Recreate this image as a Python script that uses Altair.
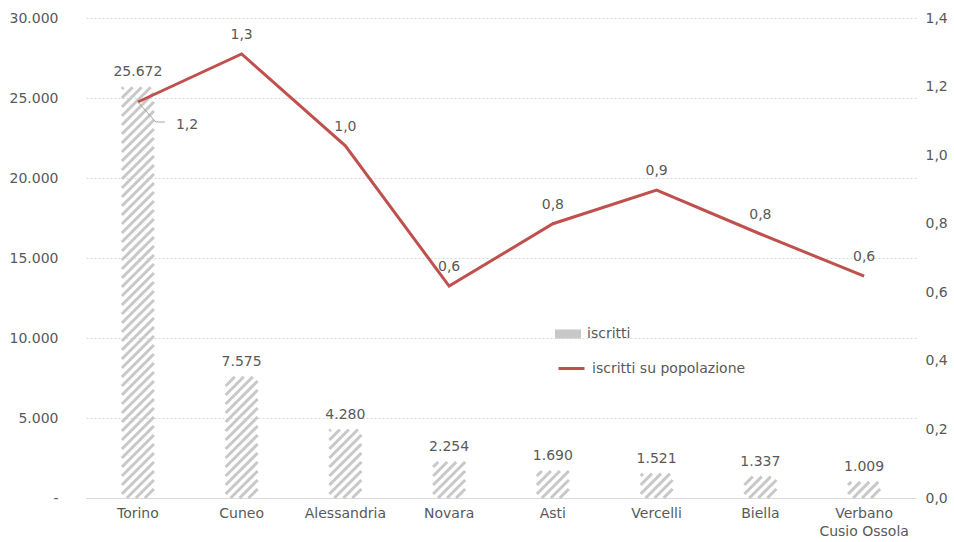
import altair as alt
import pandas as pd

categories = ["Torino", "Cuneo", "Alessandria", "Novara", "Asti", "Vercelli", "Biella", "Verbano Cusio Ossola"]
iscritti = [25672, 7575, 4280, 2254, 1690, 1521, 1337, 1009]
ratio = [1.155, 1.295, 1.027, 0.618, 0.80, 0.898, 0.77, 0.647]
left_ticks = [0, 5000, 10000, 15000, 20000, 25000, 30000]
right_ticks = [0.0, 0.2, 0.4, 0.6, 0.8, 1.0, 1.2, 1.4]

df = pd.DataFrame({"cat": categories, "iscritti": iscritti, "ratio": ratio})

FONT = "DejaVu Sans"
TXT = "#595959"
RED = "#c0504d"
HATCH = "#c8c8c8"

# hatch styling (pixels): bar width, stripe spacing; units per pixel on the left scale
BW = 32
SP = 9
UPP = 30000 / 480

x = alt.X("cat:N", sort=categories, title=None,
          scale=alt.Scale(paddingInner=0, paddingOuter=0),
          axis=alt.Axis(labelAngle=0, ticks=False, domainColor="#d9d9d9", labelPadding=8,
                        labelColor=TXT, labelFont=FONT, labelFontSize=14, grid=False,
                        labelExpr="datum.value == 'Verbano Cusio Ossola' ? ['Verbano', 'Cusio Ossola'] : datum.label",
                        labelLineHeight=18))
xs = alt.X("cat:N", sort=categories, title=None)

base = alt.Chart(df)

yl = alt.Scale(domain=[0, 30000])
yr = alt.Scale(domain=[0, 1.4])

left_axis = alt.Axis(values=left_ticks, format=",d", domain=False, ticks=False,
                     labelPadding=28, labelColor=TXT, labelFont=FONT, labelFontSize=14,
                     gridColor="#d9d9d9", gridDash=[2, 2],
                     labelExpr="datum.value == 0 ? '-' : datum.label")
right_axis = alt.Axis(orient="right", values=right_ticks, format=".1f", domain=False,
                      ticks=False, grid=False, labelPadding=9, labelColor=TXT,
                      labelFont=FONT, labelFontSize=14)

bars = base.mark_bar(width=BW, fillOpacity=0).encode(
    x=x,
    y=alt.Y("iscritti:Q", scale=yl, title=None, axis=left_axis),
    fill=alt.Fill("s1:N", scale=alt.Scale(domain=["iscritti"], range=[HATCH]),
                  legend=alt.Legend(title=None, orient="none", legendX=469, legendY=303,
                                    symbolType="M-1,-0.35H1V0.35H-1Z", symbolSize=676,
                                    symbolStrokeWidth=0, symbolOpacity=1,
                                    labelFont=FONT, labelFontSize=14,
                                    labelColor=TXT, labelOffset=6)),
).transform_calculate(s1="'iscritti'")

wd = BW * UPP
pd_ = SP * UPP
stripes = base.transform_calculate(
    k="sequence(0, 52)"
).transform_flatten(["k"]).transform_calculate(
    y0=f"datum.k * {pd_} - {wd}"
).transform_calculate(
    ya="max(datum.y0, 0)",
    yb=f"min(datum.y0 + {wd}, datum.iscritti)",
).transform_filter("datum.ya < datum.yb").transform_calculate(
    xa=f"-{BW/2} + (datum.ya - datum.y0) / {UPP}",
    xb=f"-{BW/2} + (datum.yb - datum.y0) / {UPP}",
).mark_rule(color=HATCH, strokeWidth=3,
            xOffset=alt.ExprRef("datum.xa"), x2Offset=alt.ExprRef("datum.xb")).encode(
    x=xs,
    x2="cat:N",
    y=alt.Y("ya:Q", scale=yl, title=None, axis=left_axis),
    y2="yb:Q",
)

bar_labels = base.mark_text(font=FONT, fontSize=14, color=TXT, baseline="middle", dy=-15).encode(
    x=xs,
    y=alt.Y("iscritti:Q", scale=yl, title=None, axis=left_axis),
    text=alt.Text("iscritti:Q", format=",d"),
)

left = alt.layer(bars, stripes, bar_labels)

line = base.mark_line(strokeWidth=3).encode(
    x=xs,
    y=alt.Y("ratio:Q", scale=yr, title=None, axis=right_axis),
    stroke=alt.Stroke("s2:N",
                      scale=alt.Scale(domain=["iscritti su popolazione"], range=[RED]),
                      legend=alt.Legend(title=None, orient="none", legendX=471, legendY=336,
                                        symbolType="stroke", symbolSize=676, symbolStrokeWidth=3,
                                        labelFont=FONT, labelFontSize=14, labelColor=TXT,
                                        labelOffset=6)),
).transform_calculate(s2="'iscritti su popolazione'")

line_labels = base.mark_text(font=FONT, fontSize=14, color=TXT, baseline="middle", dy=-19).encode(
    x=xs,
    y=alt.Y("ratio:Q", scale=yr, title=None, axis=right_axis),
    text=alt.Text("ratio:Q", format=".1f"),
).transform_filter("datum.cat != 'Torino'")

torino = base.transform_filter("datum.cat == 'Torino'")

torino_label = torino.mark_text(font=FONT, fontSize=14, color=TXT, baseline="middle",
                                align="left", dx=38, dy=23).encode(
    x=xs,
    y=alt.Y("ratio:Q", scale=yr, title=None, axis=right_axis),
    text=alt.Text("ratio:Q", format=".1f"),
)

leader1 = torino.mark_rule(color="#a6a6a6", strokeWidth=1, x2Offset=18, y2Offset=20).encode(
    x=xs,
    x2="cat:N",
    y=alt.Y("ratio:Q", scale=yr, title=None, axis=right_axis),
    y2="ratio:Q",
)

leader2 = torino.mark_rule(color="#a6a6a6", strokeWidth=1, xOffset=18, yOffset=20,
                           x2Offset=27, y2Offset=20).encode(
    x=xs,
    x2="cat:N",
    y=alt.Y("ratio:Q", scale=yr, title=None, axis=right_axis),
    y2="ratio:Q",
)

right = alt.layer(line, line_labels, torino_label, leader1, leader2)

chart = alt.layer(left, right).resolve_scale(y="independent").properties(
    width=830, height=480,
    autosize=alt.AutoSizeParams(type="none"),
    padding={"left": 86, "top": 18, "right": 38, "bottom": 44},
).configure(
    locale={"number": {"decimal": ",", "thousands": ".", "grouping": [3], "currency": ["€", ""]}}
).configure_view(stroke=None)

chart.save("out.html", embed_options={"renderer": "svg", "actions": False})
